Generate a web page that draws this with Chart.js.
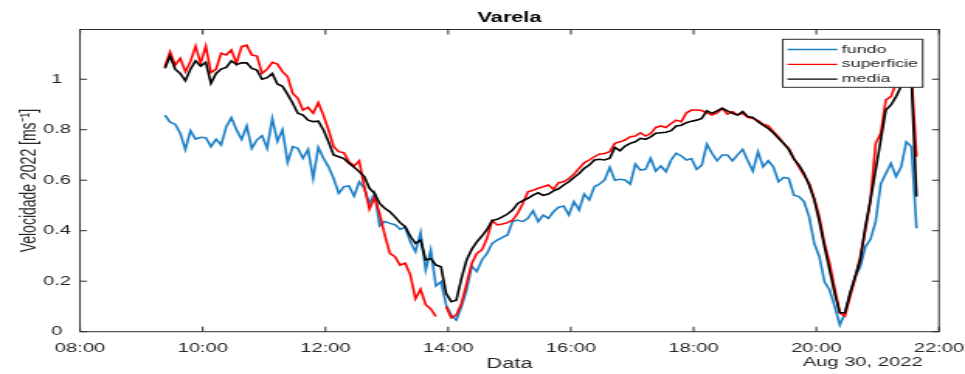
<!DOCTYPE html>
<html lang="pt">
<head>
  <meta charset="UTF-8">
  <title>Varela</title>
  <script src="https://cdn.jsdelivr.net/npm/chart.js"></script>
  <style>
    html, body { margin: 0; padding: 0; background: #fff; overflow: hidden; }
    /* the figure is stretched sideways, so draw it narrow and widen it */
    #wrap { width: 622px; height: 374px; transform: scaleX(1.55145); transform-origin: 0 0; }
  </style>
</head>
<body>
  <div id="wrap"><canvas id="myChart" width="622" height="374"></canvas></div>
  <script>
    // samples every 5 minutes from 09:23
    const startMin = 563;
    const stepMin = 5;

    const fundo = [
      0.858, 0.83, 0.822, 0.786, 0.722, 0.796, 0.763, 0.77, 0.768, 0.733,
      0.762, 0.74, 0.812, 0.848, 0.80, 0.762, 0.815, 0.726, 0.76, 0.776,
      0.726, 0.845, 0.754, 0.80, 0.67, 0.733, 0.726, 0.687, 0.722, 0.607,
      0.73, 0.687, 0.653, 0.607, 0.548, 0.574, 0.577, 0.537, 0.594, 0.568,
      0.508, 0.548, 0.419, 0.436, 0.429, 0.424, 0.406, 0.413, 0.356, 0.317,
      0.392, 0.244, 0.324, 0.181, 0.198, 0.106, 0.066, 0.046, 0.099, 0.165,
      0.26, 0.238, 0.284, 0.31, 0.35, 0.363, 0.374, 0.383, 0.436, 0.442,
      0.436, 0.449, 0.479, 0.436, 0.462, 0.449, 0.475, 0.493, 0.498, 0.462,
      0.515, 0.482, 0.545, 0.522, 0.574, 0.585, 0.601, 0.651, 0.60, 0.604,
      0.601, 0.585, 0.664, 0.64, 0.643, 0.687, 0.636, 0.656, 0.634, 0.68,
      0.707, 0.696, 0.68, 0.686, 0.643, 0.66, 0.743, 0.707, 0.677, 0.70,
      0.70, 0.677, 0.70, 0.722, 0.677, 0.636, 0.713, 0.653, 0.677, 0.653,
      0.594, 0.611, 0.607, 0.541, 0.535, 0.515, 0.455, 0.35, 0.297, 0.198,
      0.165, 0.099, 0.027, 0.073, 0.152, 0.218, 0.257, 0.337, 0.366, 0.436,
      0.585, 0.627, 0.667, 0.614, 0.653, 0.752, 0.733, 0.41
    ];
    const superficie = [
      1.05, 1.109, 1.056, 1.083, 1.03, 1.07, 1.131, 1.063, 1.131, 1.026,
      1.04, 1.103, 1.096, 1.116, 1.063, 1.129, 1.135, 1.096, 1.092, 1.023,
      1.04, 1.067, 1.06, 1.03, 1.01, 0.944, 0.924, 0.878, 0.889, 0.865,
      0.907, 0.858, 0.799, 0.733, 0.713, 0.709, 0.673, 0.656, 0.677, 0.574,
      0.485, 0.532, 0.469, 0.383, 0.31, 0.297, 0.264, 0.271, 0.225, 0.13,
      0.168, 0.107, 0.09, 0.06, null, 0.10, 0.055, 0.066, 0.112, 0.19,
      0.27, 0.31, 0.324, 0.37, 0.44, 0.423, 0.427, 0.432, 0.442, 0.469,
      0.508, 0.554, 0.56, 0.568, 0.574, 0.581, 0.564, 0.59, 0.594, 0.607,
      0.624, 0.647, 0.669, 0.68, 0.693, 0.704, 0.706, 0.713, 0.746, 0.752,
      0.759, 0.772, 0.775, 0.788, 0.775, 0.785, 0.809, 0.815, 0.809, 0.825,
      0.838, 0.832, 0.867, 0.878, 0.878, 0.876, 0.867, 0.858, 0.867, 0.885,
      0.862, 0.872, 0.858, 0.865, 0.849, 0.845, 0.836, 0.822, 0.815, 0.792,
      0.772, 0.746, 0.726, 0.687, 0.653, 0.62, 0.587, 0.528, 0.455, 0.35,
      0.271, 0.172, 0.075, 0.062, 0.139, 0.211, 0.297, 0.403, 0.522, 0.746,
      0.786, 0.918, 0.931, 0.984, 1.05, 1.1, 1.02, 0.693
    ];
    const media = [
      1.043, 1.092, 1.04, 1.023, 0.994, 1.04, 1.073, 1.052, 1.067, 0.984,
      1.023, 1.04, 1.047, 1.073, 1.058, 1.065, 1.065, 1.043, 1.036, 1.0,
      1.006, 1.023, 0.981, 0.972, 0.94, 0.905, 0.865, 0.858, 0.838, 0.832,
      0.834, 0.799, 0.752, 0.70, 0.693, 0.686, 0.667, 0.651, 0.634, 0.614,
      0.568, 0.548, 0.508, 0.489, 0.475, 0.455, 0.432, 0.416, 0.378, 0.35,
      0.363, 0.284, 0.29, 0.264, 0.257, 0.152, 0.119, 0.125, 0.211, 0.284,
      0.326, 0.356, 0.379, 0.405, 0.44, 0.445, 0.455, 0.466, 0.482, 0.508,
      0.519, 0.528, 0.541, 0.55, 0.54, 0.545, 0.558, 0.566, 0.581, 0.594,
      0.611, 0.627, 0.647, 0.66, 0.68, 0.683, 0.68, 0.687, 0.73, 0.717,
      0.735, 0.746, 0.752, 0.766, 0.762, 0.772, 0.786, 0.788, 0.79, 0.796,
      0.815, 0.818, 0.828, 0.834, 0.838, 0.845, 0.875, 0.865, 0.875, 0.885,
      0.875, 0.865, 0.858, 0.872, 0.852, 0.849, 0.832, 0.818, 0.805, 0.788,
      0.766, 0.746, 0.722, 0.684, 0.66, 0.627, 0.581, 0.522, 0.436, 0.337,
      0.244, 0.152, 0.075, 0.075, 0.152, 0.218, 0.284, 0.416, 0.522, 0.64,
      0.759, 0.878, 0.898, 0.931, 0.973, 1.02, 1.0, 0.535
    ];

    const xTicks = [480, 600, 720, 840, 960, 1080, 1200, 1320];
    const xTickLabels = ['08:00', '10:00', '12:00', '14:00', '16:00', '18:00', '20:00', '22:00'];
    const yTicks = [0, 0.2, 0.4, 0.6, 0.8, 1];
    const yTickLabels = ['0', '0.2', '0.4', '0.6', '0.8', '1'];
    const dateLabel = 'Aug 30, 2022';

    const series = [
      { label: 'fundo', data: fundo, color: '#1b7fc6', order: 3 },
      { label: 'superficie', data: superficie, color: '#ff0000', order: 2 },
      { label: 'media', data: media, color: '#000000', order: 1 }
    ];

    const toPoints = arr => arr.map((v, i) => ({ x: startMin + i * stepMin, y: v }));

    Chart.defaults.font.family = "'Liberation Sans', Arial, sans-serif";
    Chart.defaults.color = '#262626';

    // box round the axes with inward ticks, like the original
    const frame = {
      id: 'frame',
      afterDatasetsDraw(chart) {
        const { ctx, chartArea: a, scales: { x, y } } = chart;
        ctx.save();
        ctx.strokeStyle = '#2b2b2b';
        ctx.lineWidth = 1;
        ctx.strokeRect(a.left, a.top, a.right - a.left, a.bottom - a.top);
        ctx.beginPath();
        xTicks.forEach(v => {
          const px = x.getPixelForValue(v);
          ctx.moveTo(px, a.bottom); ctx.lineTo(px, a.bottom - 5);
          ctx.moveTo(px, a.top); ctx.lineTo(px, a.top + 5);
        });
        yTicks.forEach(v => {
          const py = y.getPixelForValue(v);
          ctx.moveTo(a.left, py); ctx.lineTo(a.left + 4.5, py);
          ctx.moveTo(a.right, py); ctx.lineTo(a.right - 4.5, py);
        });
        ctx.stroke();
        ctx.restore();
      }
    };

    // legend sits inside the plot, top right
    const boxLegend = {
      id: 'boxLegend',
      afterDraw(chart) {
        const { ctx, chartArea: a } = chart;
        const L = a.right - 100.7, T = a.top + 9.8, W = 90.2, H = 48;
        ctx.save();
        ctx.fillStyle = '#fff';
        ctx.fillRect(L, T, W, H);
        ctx.strokeStyle = '#2b2b2b';
        ctx.lineWidth = 1;
        ctx.strokeRect(L, T, W, H);
        ctx.font = "11.5px 'Liberation Sans', Arial, sans-serif";
        ctx.textBaseline = 'middle';
        ctx.textAlign = 'left';
        series.forEach((s, i) => {
          const yy = T + 10.2 + i * 14.8;
          ctx.strokeStyle = s.color;
          ctx.lineWidth = 1.3;
          ctx.beginPath();
          ctx.moveTo(L + 3, yy);
          ctx.lineTo(L + 35.2, yy);
          ctx.stroke();
          ctx.fillStyle = '#262626';
          ctx.fillText(s.label, L + 38, yy);
        });
        // date under the last tick
        ctx.font = "13px 'Liberation Sans', Arial, sans-serif";
        ctx.textAlign = 'right';
        ctx.fillText(dateLabel, a.right - 10.5, 362.7);
        ctx.restore();
      }
    };

    const ctx = document.getElementById('myChart').getContext('2d');
    const myChart = new Chart(ctx, {
      type: 'line',
      data: {
        datasets: series.map(s => ({
          label: s.label,
          data: toPoints(s.data),
          borderColor: s.color,
          backgroundColor: s.color,
          borderWidth: 1.6,
          pointRadius: 0,
          tension: 0,
          spanGaps: false,
          order: s.order
        }))
      },
      options: {
        responsive: false,
        animation: false,
        layout: { padding: { left: 0, right: 16.76, top: 0, bottom: 0 } },
        scales: {
          x: {
            type: 'linear',
            min: 480,
            max: 1320,
            afterBuildTicks: scale => { scale.ticks = xTicks.map(v => ({ value: v })); },
            afterFit: scale => {
              scale.height = 42.3;
              scale.paddingLeft = 0;
              scale.paddingRight = 0;
            },
            grid: { display: false, drawTicks: false },
            border: { display: false },
            ticks: {
              font: { size: 13 },
              padding: 8.5,
              maxRotation: 0,
              callback: (v, i) => xTickLabels[i]
            },
            title: { display: true, text: 'Data', font: { size: 14 }, padding: { top: 0, bottom: 1.6 } }
          },
          y: {
            min: 0,
            max: 1.197,
            afterBuildTicks: scale => { scale.ticks = yTicks.map(v => ({ value: v })); },
            afterFit: scale => {
              scale.width = 51.57;
              scale.paddingTop = 0;
              scale.paddingBottom = 0;
            },
            grid: { display: false, drawTicks: false },
            border: { display: false },
            ticks: {
              font: { size: 13 },
              padding: 5.8,
              crossAlign: 'center',
              callback: (v, i) => yTickLabels[i]
            },
            title: { display: true, text: 'Velocidade 2022 [ms⁻¹]', font: { size: 14 }, padding: { top: 10.5, bottom: 0 } }
          }
        },
        plugins: {
          legend: { display: false },
          tooltip: { enabled: false },
          title: {
            display: true,
            text: 'Varela',
            fullSize: false,
            font: { size: 14, weight: 'bold' },
            color: '#000',
            padding: { top: 10, bottom: 2.7 }
          }
        }
      },
      plugins: [frame, boxLegend]
    });
  </script>
</body>
</html>
